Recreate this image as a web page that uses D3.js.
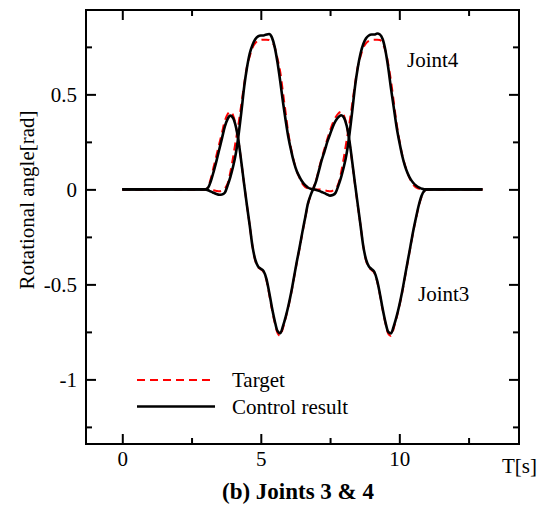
<!DOCTYPE html>
<html>
<head>
<meta charset="utf-8">
<script src="https://cdn.jsdelivr.net/npm/d3@7"></script>
<style>
  html, body { margin: 0; padding: 0; background: #fff; }
  svg { display: block; }
  text { font-family: "Liberation Serif", "Times New Roman", serif; fill: #000; }
</style>
</head>
<body>
<svg id="chart" width="547" height="510"></svg>
<script>
// ---------- data ----------
const timeSec = [0,
  3.0,3.1,3.2,3.3,3.4,3.5,3.6,3.7,3.8,3.9,
  4.0,4.1,4.2,4.3,4.4,4.5,4.6,4.7,4.8,4.9,
  5.0,5.1,5.2,5.3,5.4,5.5,5.6,5.7,5.8,5.9,
  6.0,6.1,6.2,6.3,6.4,6.5,6.6,6.7,6.8,6.9,
  7.0,7.1,7.2,7.3,7.4,7.5,7.6,7.7,7.8,7.9,
  8.0,8.1,8.2,8.3,8.4,8.5,8.6,8.7,8.8,8.9,
  9.0,9.1,9.2,9.3,9.4,9.5,9.6,9.7,9.8,9.9,
  10.0,10.1,10.2,10.3,10.4,10.5,10.6,10.7,10.8,10.9,
  11.0, 13];

const joint4Target = [0,
  0,0,-0.002,-0.005,-0.008,-0.01,-0.006,0.005,0.03,0.09,
  0.17,0.26,0.35,0.45,0.555,0.645,0.70,0.745,0.77,0.782,
  0.787,0.788,0.788,0.786,0.775,0.75,0.69,0.62,0.51,0.40,
  0.29,0.21,0.145,0.095,0.06,0.03,0.013,0.005,0.001,0,
  0,0,-0.002,-0.005,-0.008,-0.01,-0.006,0.005,0.03,0.09,
  0.17,0.26,0.35,0.45,0.555,0.645,0.70,0.745,0.77,0.782,
  0.787,0.788,0.788,0.786,0.765,0.73,0.66,0.57,0.46,0.35,
  0.26,0.185,0.13,0.085,0.05,0.025,0.01,0.004,0.001,0,
  0, 0];

const joint4Control = [0,
  0,-0.005,-0.012,-0.018,-0.024,-0.028,-0.027,-0.018,0.02,0.065,
  0.12,0.19,0.29,0.41,0.54,0.64,0.715,0.76,0.79,0.805,
  0.81,0.81,0.815,0.818,0.80,0.75,0.67,0.57,0.46,0.36,
  0.27,0.2,0.14,0.095,0.065,0.04,0.022,0.01,0.003,0.0,
  -0.003,-0.008,-0.014,-0.02,-0.027,-0.033,-0.03,-0.018,0.02,0.065,
  0.12,0.19,0.29,0.41,0.54,0.64,0.715,0.765,0.795,0.81,
  0.815,0.815,0.82,0.815,0.79,0.73,0.64,0.53,0.43,0.33,
  0.25,0.18,0.125,0.085,0.055,0.035,0.02,0.01,0.004,0.0,
  0, 0];

const joint3Target = [0,
  0,0.015,0.06,0.12,0.18,0.24,0.3,0.36,0.395,0.408,
  0.39,0.335,0.25,0.14,0.025,-0.085,-0.19,-0.3,-0.375,-0.41,
  -0.42,-0.435,-0.475,-0.55,-0.63,-0.70,-0.755,-0.77,-0.73,-0.675,
  -0.615,-0.545,-0.465,-0.385,-0.31,-0.23,-0.155,-0.08,-0.03,0.01,
  0.05,0.11,0.165,0.215,0.265,0.31,0.35,0.38,0.4,0.408,
  0.39,0.335,0.25,0.14,0.025,-0.085,-0.19,-0.3,-0.375,-0.41,
  -0.425,-0.44,-0.485,-0.555,-0.635,-0.705,-0.76,-0.772,-0.73,-0.675,
  -0.615,-0.545,-0.465,-0.385,-0.305,-0.225,-0.155,-0.09,-0.04,-0.01,
  0, 0];

const joint3Control = [0,
  0,0.01,0.045,0.095,0.15,0.21,0.27,0.33,0.37,0.388,
  0.375,0.33,0.25,0.14,0.025,-0.085,-0.19,-0.3,-0.37,-0.405,
  -0.418,-0.43,-0.47,-0.54,-0.62,-0.69,-0.745,-0.757,-0.72,-0.67,
  -0.61,-0.54,-0.46,-0.38,-0.305,-0.225,-0.15,-0.075,-0.03,0.005,
  0.045,0.10,0.155,0.2,0.25,0.29,0.33,0.36,0.38,0.39,
  0.378,0.335,0.255,0.145,0.03,-0.08,-0.19,-0.3,-0.37,-0.405,
  -0.42,-0.435,-0.48,-0.55,-0.63,-0.70,-0.75,-0.758,-0.72,-0.67,
  -0.61,-0.54,-0.46,-0.38,-0.30,-0.22,-0.15,-0.085,-0.035,-0.008,
  0, 0];

const xMajorTicks = [0, 5, 10];
const xMinorTicks = [2.5, 7.5, 12.5];
const xTickLabels = ["0", "5", "10"];
const yMajorTicks = [-1, -0.5, 0, 0.5];
const yMinorTicks = [-1.25, -0.75, -0.25, 0.25, 0.75];
const yTickLabels = ["-1", "-0.5", "0", "0.5"];
const legendLabels = ["Target", "Control result"];
const seriesNames = ["Joint3", "Joint4"];

// ---------- layout ----------
const svg = d3.select("#chart");
const L = 86, R = 519, T = 10, B = 444;
const x = d3.scaleLinear().domain([-1.31, 14.32]).range([L, R]);
const y = d3.scaleLinear().domain([-1.34, 0.944]).range([B, T]);
const FS = 21;

function styleAxis(g) {
  g.select(".domain").remove();
  g.selectAll(".tick line").attr("stroke", "#000").attr("stroke-width", 2);
  g.selectAll(".tick text").style("font-family", "'Liberation Serif', serif").style("font-size", FS + "px").attr("fill", "#000");
}
svg.append("g").attr("transform", `translate(0,${B})`)
  .call(d3.axisBottom(x).tickValues(xMajorTicks).tickSize(-10).tickPadding(7)
    .tickFormat((d, i) => xTickLabels[i])).call(styleAxis);
svg.append("g").attr("transform", `translate(0,${B})`)
  .call(d3.axisBottom(x).tickValues(xMinorTicks).tickSize(-6).tickFormat("")).call(styleAxis);
svg.append("g").attr("transform", `translate(0,${T})`)
  .call(d3.axisTop(x).tickValues(xMajorTicks).tickSize(-10).tickFormat("")).call(styleAxis);
svg.append("g").attr("transform", `translate(0,${T})`)
  .call(d3.axisTop(x).tickValues(xMinorTicks).tickSize(-6).tickFormat("")).call(styleAxis);

svg.append("g").attr("transform", `translate(${L},0)`)
  .call(d3.axisLeft(y).tickValues(yMajorTicks).tickSize(-10).tickPadding(9)
    .tickFormat((d, i) => yTickLabels[i])).call(styleAxis);
svg.append("g").attr("transform", `translate(${L},0)`)
  .call(d3.axisLeft(y).tickValues(yMinorTicks).tickSize(-6).tickFormat("")).call(styleAxis);
svg.append("g").attr("transform", `translate(${R},0)`)
  .call(d3.axisRight(y).tickValues(yMajorTicks).tickSize(-10).tickFormat("")).call(styleAxis);
svg.append("g").attr("transform", `translate(${R},0)`)
  .call(d3.axisRight(y).tickValues(yMinorTicks).tickSize(-6).tickFormat("")).call(styleAxis);

svg.append("rect").attr("x", L).attr("y", T).attr("width", R - L).attr("height", B - T)
  .attr("fill", "none").attr("stroke", "#000").attr("stroke-width", 2);

// ---------- lines ----------
const line = d3.line().x(d => x(d[0])).y(d => y(d[1])).curve(d3.curveMonotoneX);
const pts = vals => timeSec.map((t, i) => [t, vals[i]]);

[joint3Target, joint4Target].forEach(v => {
  svg.append("path").datum(pts(v)).attr("d", line)
    .attr("fill", "none").attr("stroke", "#ff0000").attr("stroke-width", 2)
    .attr("stroke-dasharray", "8,5");
});
[joint3Control, joint4Control].forEach(v => {
  svg.append("path").datum(pts(v)).attr("d", line)
    .attr("fill", "none").attr("stroke", "#000").attr("stroke-width", 2.6)
    .attr("stroke-linejoin", "round");
});

// ---------- labels ----------
svg.append("text").attr("x", 407).attr("y", 67).style("font-size", "21px").text(seriesNames[1]);
svg.append("text").attr("x", 418).attr("y", 301).style("font-size", "21px").text(seriesNames[0]);

svg.append("text").attr("transform", "translate(34,200) rotate(-90)")
  .attr("text-anchor", "middle").style("font-size", "21px").text("Rotational angle[rad]");

svg.append("text").attr("x", 502).attr("y", 473).style("font-size", "21px").text("T[s]");

svg.append("text").attr("x", 298).attr("y", 499).attr("text-anchor", "middle")
  .style("font-size", "23px").style("font-weight", "bold").text("(b) Joints 3 & 4");

// legend
const lg = svg.append("g");
lg.append("line").attr("x1", 137).attr("x2", 215).attr("y1", 380).attr("y2", 380)
  .attr("stroke", "#ff0000").attr("stroke-width", 2).attr("stroke-dasharray", "8,5");
lg.append("line").attr("x1", 137).attr("x2", 215).attr("y1", 406.5).attr("y2", 406.5)
  .attr("stroke", "#000").attr("stroke-width", 2.6);
lg.append("text").attr("x", 232).attr("y", 387).style("font-size", "21px").text(legendLabels[0]);
lg.append("text").attr("x", 232).attr("y", 413.5).style("font-size", "21px").text(legendLabels[1]);
</script>
</body>
</html>
